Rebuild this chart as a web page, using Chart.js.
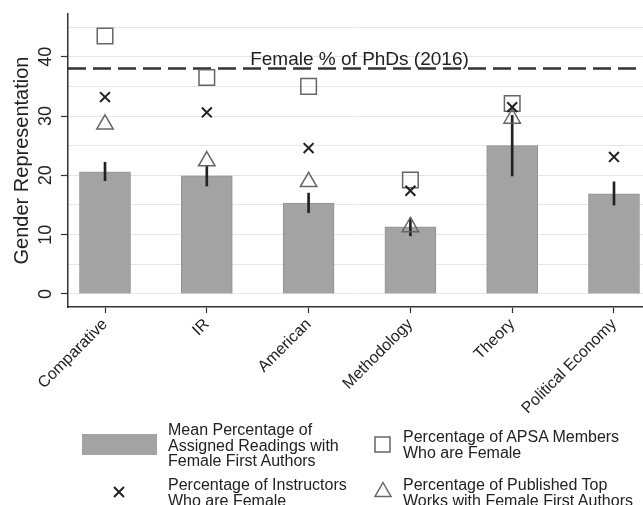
<!DOCTYPE html>
<html>
<head>
<meta charset="utf-8">
<script src="https://cdn.jsdelivr.net/npm/chart.js@4.4.1/dist/chart.umd.min.js"></script>
<style>
  html, body { margin: 0; padding: 0; background: #fff; }
  #wrap { position: relative; width: 643px; height: 505px; overflow: hidden;
          font-family: 'Liberation Sans', Arial, sans-serif; color: #222; }
  #chart { position: absolute; left: 0; top: 0; }
  .key { position: absolute; font-size: 16px; line-height: 15.5px; white-space: nowrap; }
  .sym { position: absolute; }
</style>
</head>
<body>
<div id="wrap">
  <canvas id="chart" width="643" height="505"></canvas>

  <div class="sym" style="left:82px;top:434px;width:75px;height:21px;background:#a3a3a3"></div>
  <div class="key" style="left:168px;top:422px">Mean Percentage of<br>Assigned Readings with<br>Female First Authors</div>

  <svg class="sym" style="left:374px;top:436px" width="18" height="18"><rect x="1" y="1" width="15" height="15" fill="none" stroke="#666" stroke-width="1.5"/></svg>
  <div class="key" style="left:403px;top:429px">Percentage of APSA Members<br>Who are Female</div>

  <svg class="sym" style="left:112px;top:485px" width="14" height="14"><path d="M2 2 L12 12 M12 2 L2 12" stroke="#222" stroke-width="2"/></svg>
  <div class="key" style="left:168px;top:477px">Percentage of Instructors<br>Who are Female</div>

  <svg class="sym" style="left:374px;top:481px" width="18" height="17"><polygon points="9,1.5 17,15.5 1,15.5" fill="none" stroke="#666" stroke-width="1.5"/></svg>
  <div class="key" style="left:403px;top:477px">Percentage of Published Top<br>Works with Female First Authors</div>
</div>

<script>
// values
const categories = ['Comparative', 'IR', 'American', 'Methodology', 'Theory', 'Political Economy'];
const meanReadings = [20.6, 19.9, 15.3, 11.3, 25.0, 16.9];
const ciLow = [19.1, 18.2, 13.7, 9.8, 19.9, 15.0];
const ciHigh = [22.2, 21.6, 17.0, 12.8, 30.1, 18.9];
const apsaMembers = [43.5, 36.5, 35.0, 19.2, 32.1, null];
const instructors = [33.2, 30.6, 24.6, 17.4, 31.5, 23.1];
const topWorks = [28.6, 22.4, 18.9, 11.3, 29.6, null];
const phdShare = 38;
const yTicks = [0, 5, 10, 15, 20, 25, 30, 35, 40, 45];

const xMin = 0.6365, xMax = 6.285;

function toPoints(arr) {
    return arr.map((v, i) => v == null ? null : { x: i + 1, y: v }).filter(Boolean);
}

// scales ask the layout for extra room for their labels; we size things by hand instead
const noPadding = () => ({ left: 0, top: 0, right: 0, bottom: 0 });

Chart.defaults.font.family = "'Liberation Sans', Arial, sans-serif";
Chart.defaults.color = '#222';

const phdLabel = {
    id: 'phdLabel',
    afterDatasetsDraw(chart) {
        const { ctx, scales: { x, y } } = chart;
        ctx.save();
        ctx.font = "19px 'Liberation Sans', Arial, sans-serif";
        ctx.fillStyle = '#222';
        ctx.textAlign = 'center';
        ctx.textBaseline = 'alphabetic';
        ctx.fillText('Female % of PhDs (2016)', x.getPixelForValue(3.5), y.getPixelForValue(phdShare) - 4);
        ctx.restore();
    }
};

new Chart(document.getElementById('chart'), {
    type: 'bar',
    data: {
        datasets: [
            {
                type: 'scatter',
                data: toPoints(instructors),
                pointStyle: 'crossRot',
                pointRadius: 7,
                pointBorderColor: '#222',
                pointBorderWidth: 2,
                order: 0
            },
            {
                type: 'scatter',
                data: toPoints(apsaMembers),
                pointStyle: 'rect',
                pointRadius: 11,
                pointBorderColor: '#666',
                pointBackgroundColor: 'rgba(0,0,0,0)',
                pointBorderWidth: 1.5,
                order: 1
            },
            {
                type: 'scatter',
                data: toPoints(topWorks),
                pointStyle: 'triangle',
                pointRadius: 9.5,
                pointBorderColor: '#666',
                pointBackgroundColor: 'rgba(0,0,0,0)',
                pointBorderWidth: 1.5,
                order: 2
            },
            {
                type: 'line',
                data: [{ x: xMin, y: phdShare }, { x: xMax, y: phdShare }],
                borderColor: '#333',
                borderWidth: 2.5,
                borderDash: [18, 7],
                pointRadius: 0,
                order: 3
            },
            {
                type: 'bar',
                data: ciLow.map((lo, i) => ({ x: i + 1, y: [lo, ciHigh[i]] })),
                backgroundColor: '#222',
                barThickness: 2,
                grouped: false,
                order: 4
            },
            {
                type: 'bar',
                data: toPoints(meanReadings),
                backgroundColor: '#a3a3a3',
                borderColor: '#929292',
                borderWidth: 1,
                barThickness: 51,
                grouped: false,
                order: 5
            }
        ]
    },
    options: {
        responsive: false,
        animation: false,
        layout: { autoPadding: false, padding: { top: 14, right: 0, bottom: 78, left: 0 } },
        plugins: {
            legend: { display: false },
            tooltip: { enabled: false }
        },
        scales: {
            x: {
                type: 'linear',
                offset: false,
                min: xMin,
                max: xMax,
                afterBuildTicks: s => { s.ticks = categories.map((c, i) => ({ value: i + 1 })); },
                afterFit: s => {
                    s.height = 120;
                    s.paddingLeft = 0;
                    s.paddingRight = 0;
                    s.getPadding = noPadding;
                },
                grid: { display: true, drawOnChartArea: false, offset: false, tickLength: 6, tickColor: '#333', tickWidth: 1.2 },
                border: { color: '#333', width: 1.5 },
                ticks: {
                    autoSkip: false, minRotation: 45, maxRotation: 45, padding: 2,
                    font: { size: 16 }, color: '#222',
                    callback: v => categories[v - 1]
                }
            },
            y: {
                min: -2.2,
                max: 47.2,
                afterBuildTicks: s => { s.ticks = yTicks.map(v => ({ value: v })); },
                afterFit: s => {
                    s.width = 68;
                    s.paddingTop = 0;
                    s.paddingBottom = 0;
                    s.getPadding = noPadding;
                },
                grid: {
                    color: '#e6e6e6', lineWidth: 1, tickLength: 7, tickWidth: 1.2,
                    tickColor: c => (c.tick && c.tick.value % 10 === 0) ? '#333' : 'rgba(0,0,0,0)'
                },
                border: { color: '#333', width: 1.5 },
                ticks: {
                    autoSkip: false, minRotation: 90, maxRotation: 90, crossAlign: 'center', padding: 5,
                    font: { size: 18 }, color: '#222',
                    callback: v => v % 10 === 0 ? v : ''
                },
                title: {
                    display: true, text: 'Gender Representation', color: '#222',
                    font: { size: 20 }, padding: { top: 10, bottom: 0 }
                }
            }
        }
    },
    plugins: [phdLabel]
});
</script>
</body>
</html>
